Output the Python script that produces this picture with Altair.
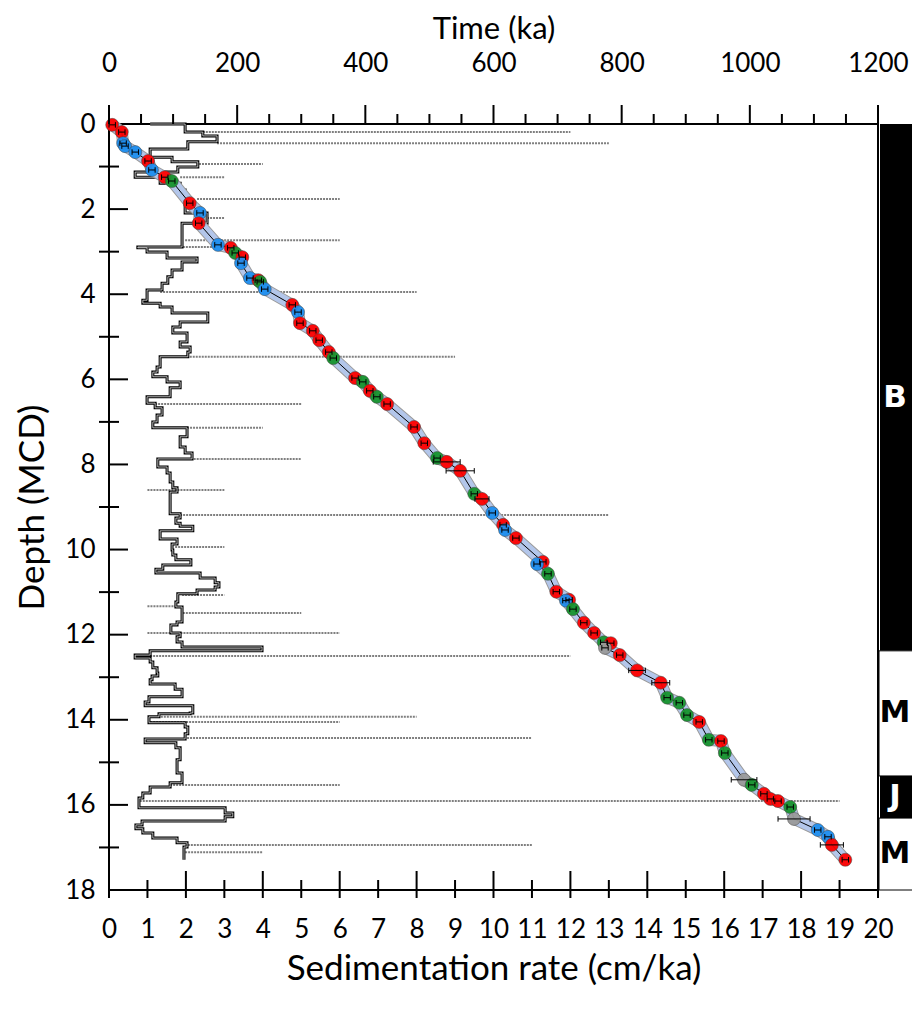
import altair as alt
import pandas as pd

W, H = 769, 766
FONT = "Lato"

# ---- sedimentation-rate step curve: top depth of each step (m) and rate (cm/ka)
sed_top = [0, 0, 0.19, 0.28, 0.42, 0.59, 0.78, 0.89, 1.01, 1.13,
           1.25, 1.39, 1.55, 2.09, 2.33, 2.89, 2.91, 3.01, 3.15, 3.24,
           3.43, 3.59, 3.74, 3.90, 4.14, 4.21, 4.30, 4.44, 4.65, 4.77,
           4.91, 5.12, 5.24, 5.36, 5.47, 5.71, 5.83, 5.94, 6.06, 6.20,
           6.41, 6.56, 6.67, 6.84, 7.00, 7.14, 7.35, 7.59, 7.73, 7.87,
           8.06, 8.20, 8.41, 8.55, 8.65, 9.16, 9.26, 9.38, 9.45, 9.56,
           9.75, 9.87, 10.01, 10.13, 10.24, 10.36, 10.46, 10.55, 10.67, 10.78,
           10.88, 10.95, 11.04, 11.23, 11.35, 11.70, 11.77, 11.96, 12.05, 12.17,
           12.29, 12.38, 12.48, 12.55, 12.64, 12.78, 12.90, 12.97, 13.06, 13.16,
           13.28, 13.46, 13.58, 13.67, 13.84, 13.86, 13.93, 14.07, 14.17, 14.33,
           14.45, 14.54, 14.66, 14.94, 15.25, 15.48, 15.58, 15.72, 15.84, 16.07,
           16.19, 16.28, 16.38, 16.47, 16.56, 16.66, 16.78, 16.89, 16.99]
sed_rate = [1.07, 1.98, 2.44, 2.81, 2.05, 1.07, 1.64, 2.31, 1.79, 0.68,
            1.33, 1.85, 1.98, 2.55, 1.90, 0.75, 0.99, 1.51, 2.29, 1.90,
            1.64, 1.53, 1.38, 0.99, 0.88, 1.33, 1.64, 2.57, 1.85, 1.66,
            2.03, 1.85, 2.11, 2.05, 1.33, 1.25, 1.14, 1.51, 1.85, 1.59,
            0.99, 1.20, 1.38, 1.25, 1.14, 2.03, 1.85, 1.98, 2.16, 1.27,
            1.51, 1.59, 1.66, 1.77, 1.59, 1.85, 1.74, 1.85, 2.18, 1.33,
            1.77, 1.64, 1.66, 1.74, 2.13, 1.40, 1.22, 2.37, 2.76, 2.86,
            2.76, 2.29, 1.79, 1.74, 1.90, 1.77, 1.61, 1.85, 1.77, 1.90,
            3.98, 1.07, 0.68, 1.07, 1.14, 1.25, 1.27, 1.12, 1.07, 1.72,
            1.90, 1.04, 0.94, 2.18, 2.11, 1.30, 1.04, 1.98, 2.05, 1.98,
            0.94, 1.74, 1.85, 1.77, 1.90, 1.59, 1.07, 0.88, 0.78, 3.02,
            3.22, 3.02, 0.86, 0.70, 0.88, 1.14, 1.77, 2.03, 1.95]
sed_bottom = 17.29

# ---- dotted tie lines: depth, start and end (sedimentation-rate units)
dot_d = [0.19, 0.45, 0.94, 1.25, 1.76, 2.21, 2.73, 2.89, 3.95, 5.47,
         6.58, 7.14, 7.87, 8.60, 9.19, 9.94, 11.07, 11.33, 11.49, 11.96,
         12.50, 13.93, 14.05, 14.43, 15.53, 15.91, 16.94, 17.11]
dot_x0 = [2.44, 2.81, 2.34, 1.85, 2.29, 2.55, 1.98, 0.75, 1.33, 2.10,
          1.20, 2.03, 1.50, 1.00, 1.85, 1.72, 1.90, 1.00, 1.92, 1.00,
          0.68, 1.27, 1.07, 2.03, 1.59, 0.80, 2.05, 1.98]
dot_x1 = [12, 13, 4, 3, 6, 3, 6, 2.7, 8, 9,
          5, 4, 5, 3, 13, 3, 3, 1.77, 5, 6,
          12, 8, 6, 11, 6, 19, 11, 4]

# ---- age-depth tie points
age_d = [0.02, 0.19, 0.45, 0.52, 0.66, 0.87, 1.08, 1.25, 1.34, 1.86,
         2.09, 2.33, 2.84, 2.91, 3.03, 3.13, 3.27, 3.62, 3.67, 3.71,
         3.88, 4.25, 4.42, 4.68, 4.86, 5.08, 5.36, 5.50, 5.97, 6.06,
         6.27, 6.41, 6.58, 7.12, 7.50, 7.85, 7.94, 8.15, 8.69, 8.81,
         9.14, 9.42, 9.54, 9.73, 10.29, 10.34, 10.57, 10.99, 11.18, 11.20,
         11.40, 11.72, 11.96, 12.18, 12.20, 12.31, 12.48, 12.84, 13.13, 13.48,
         13.60, 13.89, 14.05, 14.47, 14.50, 14.78, 15.41, 15.53, 15.74, 15.86,
         15.91, 16.05, 16.33, 16.59, 16.75, 16.94, 17.29]
age_t = [5, 20, 22, 25, 41, 61, 67, 87, 98, 126,
         142, 140, 170, 190, 197, 208, 206, 220, 233, 236,
         243, 286, 295, 298, 318, 328, 343, 350, 384, 396,
         407, 418, 434, 476, 492, 512, 527, 548, 570, 582,
         598, 615, 618, 635, 677, 668, 685, 698, 718, 713,
         724, 741, 757, 772, 783, 774, 797, 824, 861, 871,
         890, 902, 921, 936, 955, 961, 991, 1003, 1022, 1032,
         1044, 1063, 1069, 1106, 1122, 1128, 1149]
age_src = ["R", "R", "B", "B", "B", "R", "B", "R", "G", "R",
           "B", "R", "B", "R", "G", "R", "B", "B", "R", "G",
           "B", "R", "B", "R", "R", "R", "R", "G", "R", "G",
           "R", "G", "R", "R", "R", "G", "R", "R", "G", "R",
           "B", "R", "B", "R", "R", "B", "G", "R", "R", "B",
           "G", "R", "R", "G", "R", "K", "R", "R", "R", "G",
           "G", "G", "R", "G", "R", "G", "K", "G", "R", "R",
           "R", "G", "K", "B", "B", "R", "R"]
age_err = [5, 5, 5, 5, 5, 5, 5, 5, 5, 5,
           5, 5, 5, 5, 5, 5, 5, 5, 5, 5,
           5, 5, 5, 5, 5, 5, 5, 5, 5, 5,
           5, 5, 5, 5, 5, 5, 21, 22, 5, 11,
           5, 5, 5, 5, 5, 5, 5, 5, 5, 5,
           5, 5, 5, 5, 5, 5, 5, 13, 14, 5,
           5, 5, 5, 5, 5, 5, 20, 5, 5, 5,
           5, 5, 25, 5, 5, 18, 5]

# ---- polarity column
pol_top = [0, 12.38, 15.32, 16.31]
pol_bot = [12.38, 15.32, 16.31, 18]
pol_name = ["B", "M", "J", "M"]
pol_label_d = [6.45, 13.85, 15.82, 17.15]
pol_normal = [True, False, True, False]

# ---- axis tick values
depth_major = list(range(0, 19, 2))
depth_minor = list(range(1, 18, 2))
rate_major = list(range(0, 21, 2))
rate_minor = list(range(1, 20, 2))
time_major = list(range(0, 1201, 200))
time_minor = [v for v in range(50, 1200, 50) if v % 200 != 0]

# ---------------- tables
rows = []
for i, (d, r) in enumerate(zip(sed_top, sed_rate)):
    d2 = sed_top[i + 1] if i + 1 < len(sed_top) else sed_bottom
    rows.append({"i": 2 * i, "rate": r, "depth": d})
    rows.append({"i": 2 * i + 1, "rate": r, "depth": d2})
sed_df = pd.DataFrame(rows)

dot_df = pd.DataFrame({"depth": dot_d, "rate": dot_x0, "rate2": dot_x1})

age_df = pd.DataFrame({"t": age_t, "depth": age_d, "src": age_src, "err": age_err})
age_df["lo"] = age_df["t"] - age_df["err"]
age_df["hi"] = age_df["t"] + age_df["err"]
age_df["i"] = range(len(age_df))

pol_df = pd.DataFrame({"top": pol_top, "bot": pol_bot, "name": pol_name,
                       "mid": pol_label_d, "normal": pol_normal})
pol_n = pol_df[pol_df["normal"]]
pol_r = pol_df[~pol_df["normal"]]

# ---------------- scales & axes
ysc = alt.Scale(domain=[0, 18], reverse=True, nice=False, zero=False)
yax = alt.Axis(title="Depth (MCD)", values=depth_major, ticks=False, domain=False, grid=False,
               labelFlush=False, labelFontSize=26, labelPadding=14, titleFontSize=35, titlePadding=14)
xsc_r = alt.Scale(domain=[0, 20], nice=False, zero=False)
xax_r = alt.Axis(orient="bottom", title="Sedimentation rate (cm/ka)", values=list(range(0, 21)),
                 ticks=False, domain=False, grid=False, labelFlush=False, labelFontSize=26,
                 labelPadding=26, titleFontSize=35, titlePadding=9, format="d")
xsc_t = alt.Scale(domain=[0, 1200], nice=False, zero=False)
xax_t = alt.Axis(orient="top", title="Time (ka)", values=time_major, ticks=False, domain=False,
                 grid=False, labelFlush=False, labelFontSize=26, labelPadding=48, titleFontSize=31,
                 titlePadding=5, format="d")

Y = alt.Y("depth:Q", scale=ysc, axis=yax)


def XR(f="rate"):
    return alt.X(f"{f}:Q", scale=xsc_r, axis=xax_r)


def XT(f="t"):
    return alt.X(f"{f}:Q", scale=xsc_t, axis=xax_t)


# ---------------- sedimentation-rate group
dots = alt.Chart(dot_df).mark_rule(color="#7f7f7f", strokeDash=[2, 1], strokeWidth=2).encode(
    x=XR(), x2="rate2:Q", y=Y)
sed_black = alt.Chart(sed_df).mark_line(color="black", strokeWidth=3, strokeJoin="miter").encode(
    x=XR(), y=Y, order="i:Q")
sed_white = alt.Chart(sed_df).mark_line(color="white", strokeWidth=0.7).encode(
    x=XR(), y=Y, order="i:Q")

ltick_maj = alt.Chart(pd.DataFrame({"depth": depth_major})).mark_rule(color="black", strokeWidth=2).encode(
    y=Y, x=alt.value(0), x2=alt.value(19))
ltick_min = alt.Chart(pd.DataFrame({"depth": depth_minor})).mark_rule(color="black", strokeWidth=2).encode(
    y=Y, x=alt.value(-10), x2=alt.value(10))
btick_maj = alt.Chart(pd.DataFrame({"rate": rate_major})).mark_rule(color="black", strokeWidth=2).encode(
    x=XR(), y=alt.value(H - 19), y2=alt.value(H + 8))
btick_min = alt.Chart(pd.DataFrame({"rate": rate_minor})).mark_rule(color="black", strokeWidth=2).encode(
    x=XR(), y=alt.value(H - 10), y2=alt.value(H + 8))

pol_rect_n = alt.Chart(pol_n).mark_rect(fill="black").encode(
    y=alt.Y("top:Q", scale=ysc, axis=yax), y2="bot:Q", x=alt.value(W + 2), x2=alt.value(W + 60))
pol_rect_r = alt.Chart(pol_r).mark_rect(fill="white", stroke="black", strokeWidth=1).encode(
    y=alt.Y("top:Q", scale=ysc, axis=yax), y2="bot:Q", x=alt.value(W + 1), x2=alt.value(W + 60))
pol_text_n = alt.Chart(pol_n).mark_text(font="DejaVu Sans", fontWeight="bold", fontSize=31,
                                        align="center", baseline="middle", color="white").encode(
    y=alt.Y("mid:Q", scale=ysc, axis=yax), x=alt.value(W + 17), text="name:N")
pol_text_r = alt.Chart(pol_r).mark_text(font="DejaVu Sans", fontWeight="bold", fontSize=31,
                                        align="center", baseline="middle", color="black").encode(
    y=alt.Y("mid:Q", scale=ysc, axis=yax), x=alt.value(W + 17), text="name:N")

sed_group = alt.layer(dots, sed_black, sed_white, ltick_maj, ltick_min, btick_maj, btick_min,
                      pol_rect_n, pol_rect_r, pol_text_n, pol_text_r)

# ---------------- age-model group
band_edge = alt.Chart(age_df).mark_line(color="#9a9a9a", strokeWidth=12, strokeCap="round",
                                        strokeJoin="round").encode(x=XT(), y=Y, order="i:Q")
band = alt.Chart(age_df).mark_line(color="#b3c6ea", strokeWidth=10, strokeCap="round",
                                   strokeJoin="round").encode(x=XT(), y=Y, order="i:Q")
model = alt.Chart(age_df).mark_line(color="black", strokeWidth=1).encode(x=XT(), y=Y, order="i:Q")
pts = alt.Chart(age_df).mark_point(filled=True, opacity=0.95, stroke="#404040", strokeWidth=0.5).encode(
    x=XT(), y=Y,
    fill=alt.Fill("src:N", scale=alt.Scale(domain=["R", "B", "G", "K"],
                                            range=["#ff0000", "#1e8ff0", "#17942e", "#9a9a9a"]),
                  legend=None),
    size=alt.Size("src:N", scale=alt.Scale(domain=["R", "B", "G", "K"], range=[170, 170, 170, 230]),
                  legend=None),
    order="i:Q")
ebar = alt.Chart(age_df).mark_rule(color="black", strokeWidth=1).encode(x=XT("lo"), x2="hi:Q", y=Y)
cap_lo = alt.Chart(age_df).mark_point(shape="M0,-1L0,1", size=30, color="black", strokeWidth=1,
                                      opacity=1).encode(x=XT("lo"), y=Y)
cap_hi = alt.Chart(age_df).mark_point(shape="M0,-1L0,1", size=30, color="black", strokeWidth=1,
                                      opacity=1).encode(x=XT("hi"), y=Y)
ttick_maj = alt.Chart(pd.DataFrame({"t": time_major})).mark_rule(color="black", strokeWidth=2).encode(
    x=XT(), y=alt.value(-19), y2=alt.value(0))
ttick_min = alt.Chart(pd.DataFrame({"t": time_minor})).mark_rule(color="black", strokeWidth=2).encode(
    x=XT(), y=alt.value(-10), y2=alt.value(0))

time_group = alt.layer(band_edge, band, model, pts, ebar, cap_lo, cap_hi, ttick_maj, ttick_min)

chart = alt.layer(sed_group, time_group).resolve_scale(x="independent").properties(
    width=W, height=H,
    autosize=alt.AutoSizeParams(type="none"),
    padding={"left": 101, "top": 116, "right": 34, "bottom": 100},
).configure_axis(
    labelFont=FONT, titleFont=FONT, labelColor="black", titleColor="black", titleFontWeight="normal"
).configure_view(stroke="black", strokeWidth=2)

chart.save("out.html", embed_options={"renderer": "svg", "actions": False})
